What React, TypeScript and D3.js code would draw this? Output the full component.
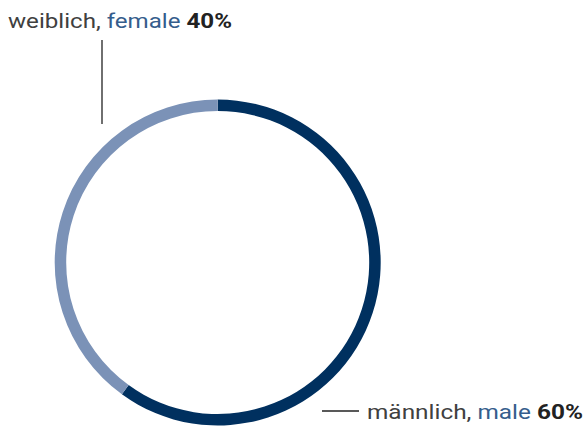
import React from "react";
import * as d3 from "d3";

const categories = ["männlich", "weiblich"];
const categoriesEn = ["male", "female"];
const values = [60, 40];
const colors = ["#00305f", "#7b92b7"];

export default function App() {
  const width = 588;
  const height = 431;
  const cx = 217.7;
  const cy = 262.5;
  const outerR = 163;
  const innerR = 151.5;

  const pie = d3.pie<number>().sort(null).value((d) => d);
  const arcs = pie(values);
  const arc = d3.arc<d3.PieArcDatum<number>>().innerRadius(innerR).outerRadius(outerR);

  const font = "Roboto, 'Open Sans', sans-serif";
  const fs = 21;

  return (
    <svg
      width={width}
      height={height}
      style={{ position: "absolute", left: 0, top: 0 }}
      fontFamily={font}
    >
      <rect width={width} height={height} fill="#fff" />
      <g transform={`translate(${cx},${cy})`}>
        {arcs.map((a, i) => (
          <path key={i} d={arc(a) || ""} fill={colors[i]} />
        ))}
      </g>
      {/* female leader */}
      <line x1={102} y1={40} x2={102} y2={124} stroke="#222" strokeWidth={1.3} />
      <text x={8} y={28} fontSize={fs} fill="#404040" textLength={224} lengthAdjust="spacingAndGlyphs">
        {categories[1]},{" "}
        <tspan fill="#355d8c">{categoriesEn[1]}</tspan>{" "}
        <tspan fontWeight="bold" fill="#222">{values[1]}%</tspan>
      </text>
      {/* male leader */}
      <line x1={322} y1={411} x2={359} y2={411} stroke="#222" strokeWidth={1.3} />
      <text x={367} y={419} fontSize={fs} fill="#404040" textLength={216} lengthAdjust="spacingAndGlyphs">
        {categories[0]},{" "}
        <tspan fill="#355d8c">{categoriesEn[0]}</tspan>{" "}
        <tspan fontWeight="bold" fill="#222">{values[0]}%</tspan>
      </text>
    </svg>
  );
}
